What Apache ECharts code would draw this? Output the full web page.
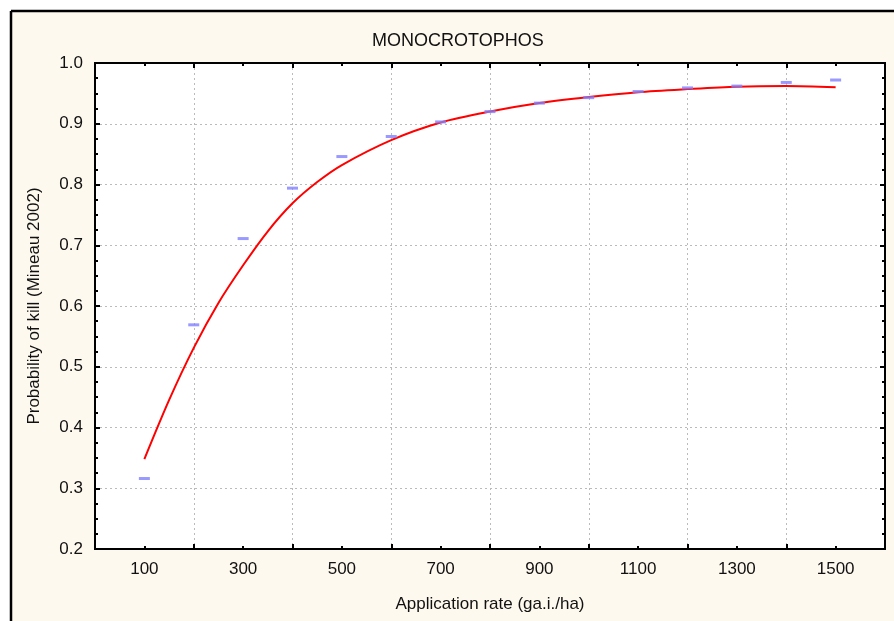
<!DOCTYPE html>
<html>
<head>
<meta charset="utf-8">
<script src="https://cdn.jsdelivr.net/npm/echarts@6/dist/echarts.min.js"></script>
<style>
	html, body { margin: 0; padding: 0; background: #fff; }
	#chart { width: 894px; height: 621px; }
</style>
</head>
<body>
<div id="chart"></div>
<script>
'use strict';
// observed kill probability per application rate (blue dashes)
var rates = [100, 200, 300, 400, 500, 600, 700, 800, 900, 1000, 1100, 1200, 1300, 1400, 1500];
var observed = [0.316, 0.569, 0.711, 0.794, 0.846, 0.879, 0.903, 0.920, 0.934, 0.943, 0.953, 0.959, 0.962, 0.968, 0.972];

// fitted curve (red)
var fitRates = [100, 150, 200, 250, 300, 350, 400, 450, 500, 600, 700, 800, 900, 1000, 1100, 1200, 1300, 1400, 1500];
var fitted = [0.348, 0.445, 0.531, 0.605, 0.667, 0.723, 0.769, 0.804, 0.832, 0.873, 0.902, 0.920, 0.934, 0.944, 0.952, 0.957, 0.961, 0.962, 0.960];

var labelRates = [100, 300, 500, 700, 900, 1100, 1300, 1500];

var FONT = '"Liberation Sans", Arial, sans-serif';
var INK = '#111';

function zip(xs, ys){
	var out = [];
	for(var i=0;i<xs.length;i++){
		out.push([xs[i], ys[i]]);
	}
	return out;
}

// x axis frame piece: step 200 = long ticks, step 100 = short ticks
function xFrame(position, step, tickLen){
	return {
		type: 'value',
		position: position,
		min: 0,
		max: 1600,
		interval: step,
		axisLine: { show: true, onZero: false, lineStyle: { color: '#000', width: 2 } },
		axisTick: { show: true, inside: true, length: tickLen, lineStyle: { color: '#000', width: 2 } },
		axisLabel: { show: false },
		splitLine: { show: false },
		minorSplitLine: { show: false }
	};
}

function yFrame(position){
	return {
		type: 'value',
		position: position,
		min: 0.2,
		max: 1.0,
		interval: 0.1,
		axisLine: { show: true, onZero: false, lineStyle: { color: '#000', width: 2 } },
		axisTick: { show: true, inside: true, length: 5, lineStyle: { color: '#000', width: 2 } },
		minorTick: { show: true, splitNumber: 4, length: 3, lineStyle: { color: '#000', width: 2 } },
		splitLine: { show: false },
		minorSplitLine: { show: false },
		axisLabel: { show: false }
	};
}

var xMain = xFrame('bottom', 200, 5);
xMain.splitLine = { show: true, lineStyle: { color: '#bbb', type: [2, 3], width: 1 } };

var xLabels = xFrame('bottom', 100, 3);
xLabels.axisLabel = {
	show: true,
	margin: 12,
	fontFamily: FONT,
	fontSize: 17,
	color: INK,
	formatter: function(v){
		return labelRates.indexOf(v) >= 0 ? String(v) : '';
	}
};
xLabels.name = 'Application rate (ga.i./ha)';
xLabels.nameLocation = 'middle';
xLabels.nameGap = 47;
xLabels.nameTextStyle = { fontFamily: FONT, fontSize: 17, color: INK };

var yMain = yFrame('left');
yMain.splitLine = { show: true, lineStyle: { color: '#bbb', type: [2, 3], width: 1 } };
yMain.axisLabel = {
	show: true,
	margin: 12,
	fontFamily: FONT,
	fontSize: 17,
	color: INK,
	formatter: function(v){ return v.toFixed(1); }
};
yMain.name = 'Probability of kill (Mineau 2002)';
yMain.nameLocation = 'middle';
yMain.nameGap = 52;
yMain.nameTextStyle = { fontFamily: FONT, fontSize: 17, color: INK };

var option = {
	backgroundColor: '#fef9ef',
	animation: false,
	title: {
		text: 'MONOCROTOPHOS',
		left: 367,
		top: 27,
		textStyle: { fontFamily: FONT, fontSize: 18, fontWeight: 'normal', color: INK }
	},
	graphic: [
		{ type: 'rect', shape: { x: 0, y: 0, width: 894, height: 10 }, style: { fill: '#fff' }, silent: true },
		{ type: 'rect', shape: { x: 0, y: 0, width: 10, height: 621 }, style: { fill: '#fff' }, silent: true },
		{ type: 'line', shape: { x1: 11, y1: 11, x2: 894, y2: 11 }, style: { stroke: '#000', lineWidth: 2.5 }, silent: true },
		{ type: 'line', shape: { x1: 11, y1: 11, x2: 11, y2: 621 }, style: { stroke: '#000', lineWidth: 2.5 }, silent: true }
	],
	grid: {
		left: 95,
		top: 63,
		right: 9,
		bottom: 72,
		outerBoundsMode: 'none',
		show: true,
		backgroundColor: '#fff',
		borderWidth: 0
	},
	xAxis: [xMain, xLabels, xFrame('top', 100, 3), xFrame('top', 200, 5)],
	yAxis: [yMain, yFrame('right')],
	series: [
		{
			name: 'fit',
			type: 'line',
			xAxisIndex: 0,
			yAxisIndex: 0,
			smooth: 0.3,
			symbol: 'none',
			lineStyle: { color: '#ff0000', width: 2 },
			data: zip(fitRates, fitted)
		},
		{
			name: 'observed',
			type: 'scatter',
			xAxisIndex: 0,
			yAxisIndex: 0,
			symbol: 'rect',
			symbolSize: [11, 3],
			itemStyle: { color: '#8080ff' },
			z: 3,
			data: zip(rates, observed)
		}
	]
};

var _chart = echarts.init(document.getElementById('chart'));
_chart.setOption(option);
</script>
</body>
</html>
